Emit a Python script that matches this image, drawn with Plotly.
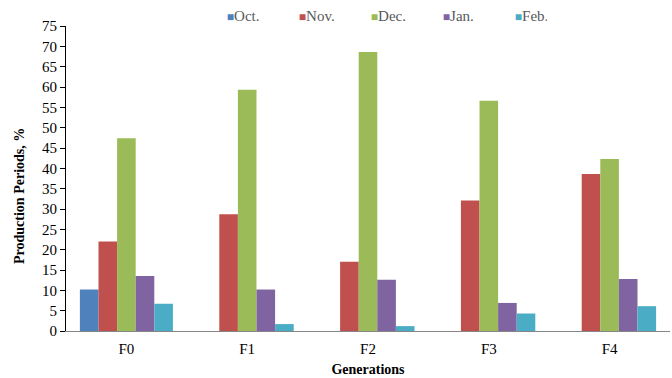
import plotly.graph_objects as go

generations = ["F0", "F1", "F2", "F3", "F4"]
months = ["Oct.", "Nov.", "Dec.", "Jan.", "Feb."]
oct_vals = [10.2, 0, 0, 0, 0]
nov_vals = [22.0, 28.7, 17.0, 32.1, 38.6]
dec_vals = [47.4, 59.3, 68.6, 56.6, 42.3]
jan_vals = [13.5, 10.2, 12.6, 6.9, 12.8]
feb_vals = [6.7, 1.7, 1.2, 4.3, 6.1]
colors = ["#4F81BD", "#C0504D", "#9BBB59", "#8064A2", "#4BACC6"]

series = [oct_vals, nov_vals, dec_vals, jan_vals, feb_vals]

fig = go.Figure()
for name, vals, col in zip(months, series, colors):
    fig.add_trace(go.Bar(x=generations, y=vals, name=name, marker_color=col,
                         marker_line_width=0, showlegend=False, legendgroup=name))
# legend entries: small coloured square drawn right next to the label
for name, col in zip(months, colors):
    label = f"<span style='color:{col};font-size:12px'>■</span>{name}"
    fig.add_trace(go.Scatter(x=[None], y=[None], mode="markers", name=label,
                             legendgroup=name,
                             marker=dict(symbol="square", size=1, color="rgba(0,0,0,0)")))

font_family = "Liberation Serif, Times New Roman, serif"
fig.update_layout(
    width=672, height=378,
    barmode="group", bargap=0.23, bargroupgap=0,
    plot_bgcolor="white", paper_bgcolor="white",
    margin=dict(l=66, r=2, t=26, b=47, autoexpand=False),
    font=dict(family=font_family, size=15, color="black"),
    legend=dict(orientation="h", x=0.2, xanchor="left", y=1.036, yanchor="middle",
                font=dict(size=15, color="#595959"), itemwidth=30,
                traceorder="normal", entrywidth=27),
    xaxis=dict(showline=True, linecolor="#868686", linewidth=1, ticks="",
               title=dict(text="<b>Generations</b>", font=dict(size=14), standoff=8),
               tickfont=dict(size=15), ticklabelstandoff=4),
    yaxis=dict(range=[0, 75], dtick=5, showgrid=False, zeroline=False,
               showline=True, linecolor="black", linewidth=1,
               ticks="outside", ticklen=5, tickcolor="black",
               tickfont=dict(size=15)),
    annotations=[dict(text="<b>Production Periods, %</b>", textangle=-90,
                      xref="paper", yref="paper", x=-0.076, y=0.443,
                      xanchor="center", yanchor="middle", showarrow=False,
                      font=dict(size=14))],
)

fig.write_html("out.html")
